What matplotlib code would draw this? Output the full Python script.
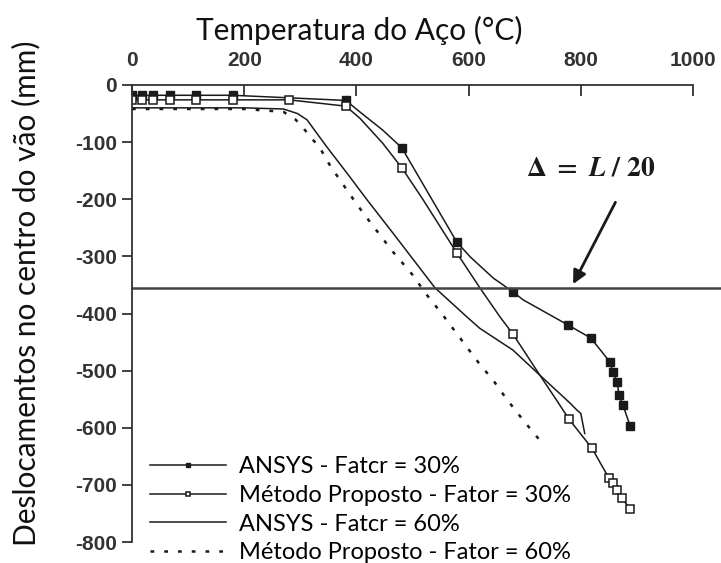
import matplotlib.pyplot as plt

# Dados
t_ansys30 = [0, 18, 37, 68, 114, 180, 381, 406, 447, 481, 535, 579, 603, 644, 679, 697, 777, 818, 852, 857, 865, 868, 875, 888]
d_ansys30 = [-18, -18, -18, -18, -18, -18, -27, -47, -79, -110, -201, -275, -301, -338, -362, -376, -420, -443, -485, -502, -520, -543, -560, -597]
m_ansys30 = [0, 1, 2, 3, 4, 5, 6, 9, 11, 14, 16, 17, 18, 19, 20, 21, 22, 23]

t_metodo30 = [0, 18, 37, 68, 114, 180, 280, 381, 406, 447, 481, 519, 579, 620, 656, 679, 727, 757, 779, 820, 850, 857, 864, 873, 888]
d_metodo30 = [-26, -26, -26, -26, -26, -26, -26, -37, -58, -102, -145, -201, -294, -355, -406, -436, -508, -552, -585, -636, -688, -697, -709, -723, -742]
m_metodo30 = [0, 1, 2, 3, 4, 5, 6, 7, 10, 12, 15, 18, 19, 20, 21, 22, 23, 24]

t_ansys60 = [0, 100, 200, 270, 295, 312, 347, 383, 419, 465, 540, 597, 620, 679, 727, 781, 793, 800, 804, 807]
d_ansys60 = [-40, -40, -40, -42, -50, -61, -108, -154, -201, -259, -355, -406, -426, -464, -508, -557, -569, -575, -595, -610]

t_metodo60 = [0, 100, 200, 270, 291, 305, 320, 335, 347, 358, 371, 383, 412, 465, 499, 526, 552, 623, 641, 665, 683, 700, 727]
d_metodo60 = [-42, -42, -42, -47, -60, -75, -93, -110, -131, -149, -166, -184, -224, -292, -331, -368, -400, -493, -513, -546, -569, -590, -622]

limite = -355  # L/20

labels = ["ANSYS - Fatcr = 30%", "Método Proposto - Fator = 30%",
          "ANSYS - Fatcr = 60%", "Método Proposto - Fator = 60%"]

plt.rcParams['mathtext.fontset'] = 'stix'
plt.rcParams['axes.unicode_minus'] = False

fig = plt.figure(figsize=(7.21, 5.63), dpi=100)
ax = fig.add_axes([132 / 721, 1 - 542 / 563, 561 / 721, 457 / 563])

cor = '#1a1a1a'
l1, = ax.plot(t_ansys30, d_ansys30, color=cor, lw=1.1, marker='s', ms=5.5,
              mfc=cor, mec=cor, markevery=m_ansys30)
l2, = ax.plot(t_metodo30, d_metodo30, color=cor, lw=1.1, marker='s', ms=5.5,
              mfc='white', mec=cor, mew=1.1, markevery=m_metodo30)
l3, = ax.plot(t_ansys60, d_ansys60, color=cor, lw=1.1)
l4, = ax.plot(t_metodo60, d_metodo60, color=cor, lw=1.8, linestyle=(0, (1.5, 4)))

ax.axhline(limite, xmin=0, xmax=1.06, color='#444444', lw=1.8, clip_on=False)

ax.annotate("", xy=(784, limite + 2), xytext=(864, -201),
            arrowprops=dict(arrowstyle='-|>', lw=2, color=cor, mutation_scale=20))
ax.text(817, -144, r"$\mathbf{\Delta\ =\ }\mathbfit{L}\mathbf{\ /\ 20}$",
        fontsize=20, ha='center', va='center', color=cor)

ax.set_xlim(0, 1000)
ax.set_ylim(-800, 0)
ax.set_xticks(range(0, 1001, 200))
ax.set_yticks(range(-800, 1, 100))
ax.xaxis.tick_top()
ax.spines['bottom'].set_visible(False)
ax.spines['right'].set_visible(False)
for s in ['top', 'left']:
    ax.spines[s].set_linewidth(1.3)
    ax.spines[s].set_color('#333333')
ax.tick_params(axis='x', direction='in', length=8, width=1.3, color='#333333', pad=11)
ax.tick_params(axis='y', direction='out', length=7, width=1.3, color='#333333', pad=4)
for lab in ax.get_xticklabels() + ax.get_yticklabels():
    lab.set_fontfamily('Liberation Sans')
    lab.set_fontweight('bold')
    lab.set_fontsize(15)
    lab.set_color('#333333')

fig.text(359 / 721, 1 - 30 / 563, "Temperatura do Aço (°C)", fontfamily='Lato',
         fontsize=21.5, ha='center', va='center', color='#111111')
fig.text(26 / 721, 1 - 293 / 563, "Deslocamentos no centro do vão (mm)", fontfamily='Lato',
         fontsize=21.5, ha='center', va='center', rotation=90, color='#111111')

fig.legend([l1, l2, l3, l4], labels, loc='upper left', bbox_to_anchor=(150 / 721, 1 - 456 / 563),
           frameon=False, borderpad=0, borderaxespad=0, handlelength=3.2, handletextpad=0.55,
           labelspacing=0.33, markerscale=0.6, prop={'family': 'Lato', 'size': 17})

fig.savefig("out.png", dpi=100)
